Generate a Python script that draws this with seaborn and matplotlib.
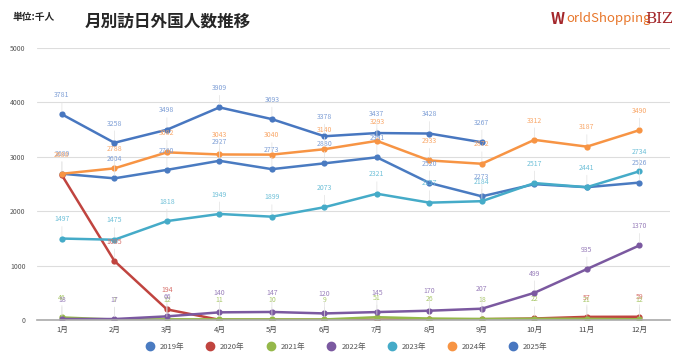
import numpy as np
import pandas as pd
import seaborn as sns
import matplotlib.pyplot as plt
from matplotlib.lines import Line2D

months = ["1月", "2月", "3月", "4月", "5月", "6月", "7月", "8月", "9月", "10月", "11月", "12月"]
years = ["2019年", "2020年", "2021年", "2022年", "2023年", "2024年", "2025年"]

v2019 = [2689, 2604, 2760, 2927, 2773, 2880, 2991, 2520, 2273, 2497, 2441, 2526]
v2020 = [2661, 1085, 194, 3, 2, 3, 4, 9, 14, 27, 57, 59]
v2021 = [46, 7, 12, 11, 10, 9, 51, 26, 18, 22, 21, 12]
v2022 = [18, 17, 66, 140, 147, 120, 145, 170, 207, 499, 935, 1370]
v2023 = [1497, 1475, 1818, 1949, 1899, 2073, 2321, 2157, 2184, 2517, 2441, 2734]
v2024 = [2688, 2788, 3082, 3043, 3040, 3140, 3293, 2933, 2872, 3312, 3187, 3490]
v2025 = [3781, 3258, 3498, 3909, 3693, 3378, 3437, 3428, 3267]

colors = ["#4a7bc1", "#c0443f", "#95b84a", "#7b59a0", "#45abc8", "#f79444", "#4877c0"]
label_colors = ["#7f9fd6", "#d7706b", "#a9c86a", "#9a80bb", "#6fc0d8", "#f9a86a", "#7f9fd6"]

# labels hidden in the original (covered by other series)
hidden = {(0, 9), (0, 10), (1, 0), (1, 3), (1, 4), (1, 5), (1, 6), (1, 7), (1, 8), (1, 9)}

series = [v2019, v2020, v2021, v2022, v2023, v2024, v2025]
rows = []
for y, vals in zip(years, series):
    for i, v in enumerate(vals):
        rows.append({"year": y, "m": i, "value": v})
df = pd.DataFrame(rows)

sns.set_style("white")
plt.rcParams['font.family'] = ['Noto Sans CJK JP', 'DejaVu Sans']

fig = plt.figure(figsize=(6.8, 3.64), dpi=100)
ax = fig.add_axes([0.054, 0.121, 0.931, 0.747])

sns.lineplot(data=df, x="m", y="value", hue="year", palette=colors,
             marker="o", markersize=4.5, markeredgewidth=0, linewidth=1.8,
             legend=False, ax=ax)

# data labels above each point
for k, vals in enumerate(series):
    for i, v in enumerate(vals):
        if (k, i) in hidden:
            continue
        ax.annotate(str(v), (i, v), xytext=(0, 11), textcoords="offset points",
                    ha="center", va="bottom", fontsize=5, color=label_colors[k],
                    arrowprops=dict(arrowstyle="-", color="#e2e2e2", lw=0.5,
                                    shrinkA=0, shrinkB=2))

ax.set_xlim(-0.48, 11.58)
ax.set_ylim(0, 5000)
ax.set_yticks([0, 1000, 2000, 3000, 4000, 5000])
ax.set_xticks(range(12))
ax.set_xticklabels(months)
ax.tick_params(axis="x", labelsize=5.5, colors="#444444", length=0, pad=4)
ax.tick_params(axis="y", labelsize=5, colors="#555555", length=0, pad=8)
ax.yaxis.grid(True, color="#dddddd", lw=0.8)
ax.set_xlabel("")
ax.set_ylabel("")
for s in ["top", "right", "left"]:
    ax.spines[s].set_visible(False)
ax.spines["bottom"].set_color("#aaaaaa")
ax.spines["bottom"].set_linewidth(1.2)

handles = [Line2D([], [], marker="o", ls="", color=c, markersize=6) for c in colors]
fig.legend(handles, years, loc="center", bbox_to_anchor=(0.507, 0.047), ncol=7,
           frameon=False, fontsize=5.5, handletextpad=0.3, columnspacing=2.4,
           labelcolor="#555555")

fig.text(0.018, 0.952, "単位:千人", fontsize=7, fontweight="bold", va="center")
fig.text(0.125, 0.942, "月別訪日外国人数推移", fontsize=12, fontweight="bold", va="center")

# logo
fig.text(0.81, 0.948, "W", fontsize=11, color="#a3262a", va="center", fontweight="bold")
fig.text(0.833, 0.948, "orldShopping", fontsize=9.5, color="#e8762a", va="center")
fig.text(0.949, 0.948, "BIZ", fontsize=11, color="#a3262a", va="center", family="DejaVu Serif")

fig.savefig("out.png", dpi=100)
